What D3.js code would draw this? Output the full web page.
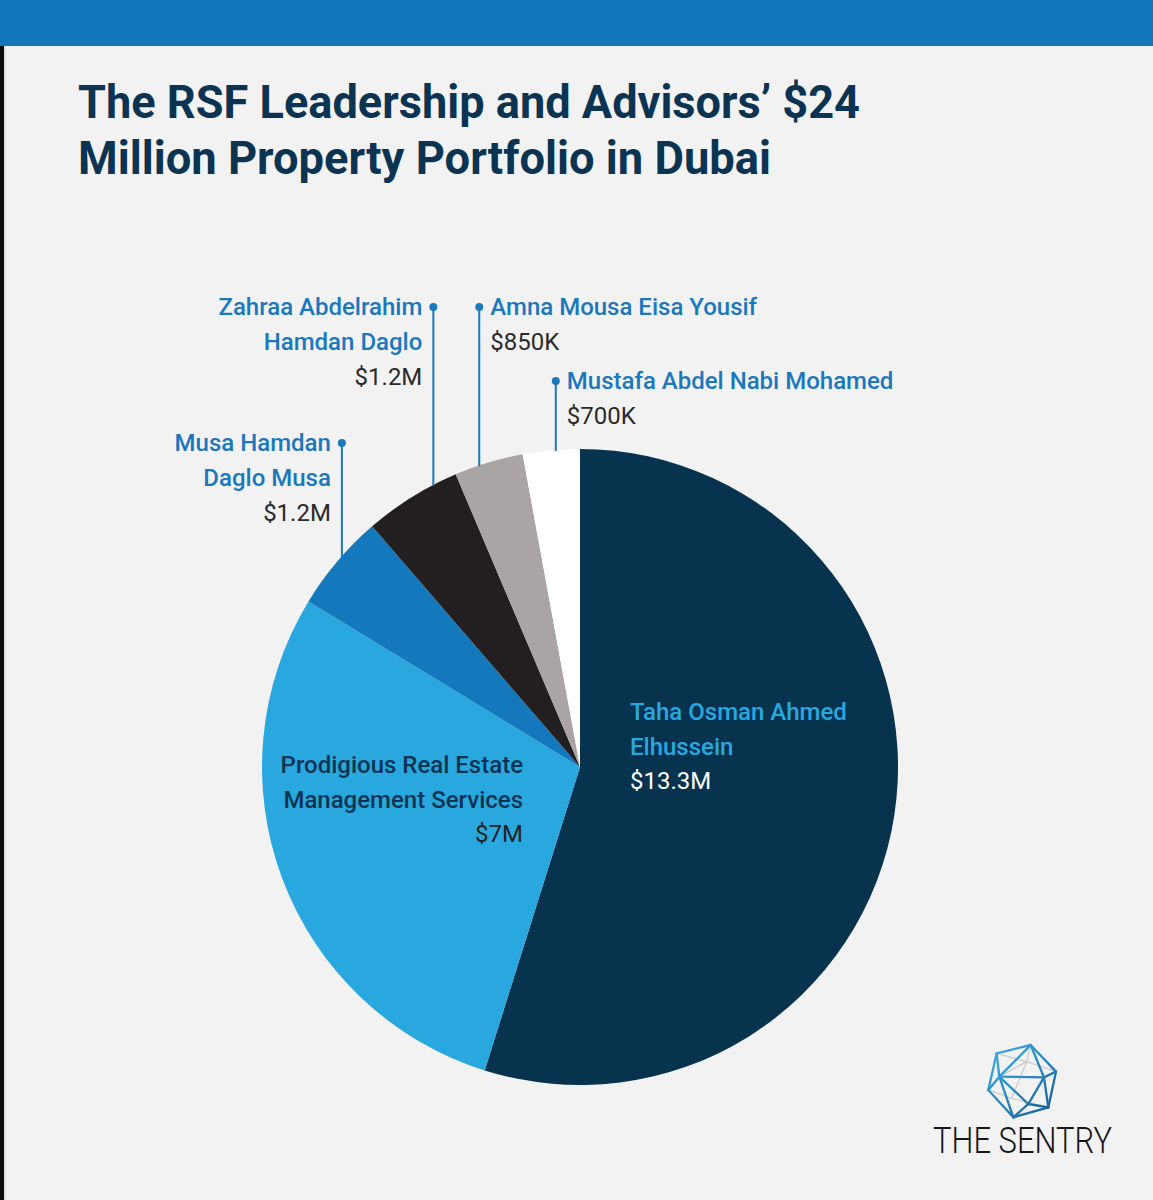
<!DOCTYPE html>
<html>
<head>
<meta charset="utf-8">
<script src="https://cdn.jsdelivr.net/npm/d3@7"></script>
<style>
  html, body { margin: 0; padding: 0; background: #f3f2f3; }
  svg { display: block; }
</style>
</head>
<body>
<script>
// ---- data ----
const names = [
  "Taha Osman Ahmed Elhussein",
  "Prodigious Real Estate Management Services",
  "Musa Hamdan Daglo Musa",
  "Zahraa Abdelrahim Hamdan Daglo",
  "Amna Mousa Eisa Yousif",
  "Mustafa Abdel Nabi Mohamed"
];
const nameLines = [
  ["Taha Osman Ahmed", "Elhussein"],
  ["Prodigious Real Estate", "Management Services"],
  ["Musa Hamdan", "Daglo Musa"],
  ["Zahraa Abdelrahim", "Hamdan Daglo"],
  ["Amna Mousa Eisa Yousif"],
  ["Mustafa Abdel Nabi Mohamed"]
];
const valuesM = [13.3, 7, 1.2, 1.2, 0.85, 0.7];
const valueLabels = ["$13.3M", "$7M", "$1.2M", "$1.2M", "$850K", "$700K"];
const sliceColors = ["#07334f", "#29a8e0", "#1478bc", "#231f20", "#aba4a4", "#ffffff"];
const titleLines = ["The RSF Leadership and Advisors\u2019 $24", "Million Property Portfolio in Dubai"];

// ---- layout ----
const W = 1153, H = 1200;
const cx = 580, cy = 767, R = 318;
const FONT = "Roboto, 'Noto Sans', sans-serif";

const svg = d3.select("body").append("svg").attr("width", W).attr("height", H);
svg.append("rect").attr("width", W).attr("height", H).attr("fill", "#f3f2f3");
svg.append("rect").attr("x", 0).attr("y", 0).attr("width", W).attr("height", 46).attr("fill", "#1377bb");
svg.append("rect").attr("x", 0).attr("y", 46).attr("width", 4).attr("height", H - 46).attr("fill", "#0d0d0d");
svg.append("rect").attr("x", 4).attr("y", 46).attr("width", 1.5).attr("height", H - 46).attr("fill", "#dcdcdc");

// title
const titleWidths = [782, 693];
titleLines.forEach((t, i) => {
  svg.append("text")
    .attr("x", 78).attr("y", 118 + i * 56)
    .attr("font-family", FONT).attr("font-weight", 700).attr("font-size", 47)
    .attr("fill", "#0b3453")
    .attr("textLength", titleWidths[i]).attr("lengthAdjust", "spacingAndGlyphs")
    .text(t);
});

// pie
const data = valuesM.map((v, i) => ({ name: names[i], value: v, i }));
const pie = d3.pie().sort(null).value(d => d.value).startAngle(0).endAngle(2 * Math.PI);
const arcs = pie(data);
const arc = d3.arc().innerRadius(0).outerRadius(R);
const g = svg.append("g").attr("transform", `translate(${cx},${cy})`);
g.selectAll("path").data(arcs).join("path")
  .attr("d", arc)
  .attr("fill", d => sliceColors[d.data.i]);

// inside labels (Taha, Prodigious)
const inside = [
  { i: 0, dx: 50, dy: -47, anchor: "start", nameColor: "#29a8e0", valColor: "#ffffff" },
  { i: 1, dx: -57, dy: 6, anchor: "end", nameColor: "#0b3453", valColor: "#222222" }
];
inside.forEach(l => {
  const lines = nameLines[l.i];
  const t = g.append("g").attr("transform", `translate(${l.dx},${l.dy})`);
  lines.forEach((s, k) => {
    t.append("text").attr("y", k * 34.5).attr("text-anchor", l.anchor)
      .attr("font-family", FONT).attr("font-weight", 500).attr("font-size", 24)
      .attr("fill", l.nameColor).text(s);
  });
  t.append("text").attr("y", lines.length * 34.5).attr("text-anchor", l.anchor)
    .attr("font-family", FONT).attr("font-weight", 400).attr("font-size", 24)
    .attr("fill", l.valColor).text(valueLabels[l.i]);
});

// outside callouts: frac = position inside the slice where the leader meets the rim; dotY = leader top
const callouts = [
  { i: 2, frac: 0.57, dotY: 443, side: "left" },
  { i: 3, frac: 0.75, dotY: 307, side: "left" },
  { i: 4, frac: 0.36, dotY: 307, side: "right" },
  { i: 5, frac: 0.58, dotY: 381, side: "right" }
];
const lineColor = "#1a78bd";
callouts.forEach(c => {
  const a = arcs[c.i];
  const ang = a.startAngle + (a.endAngle - a.startAngle) * c.frac;
  const rimX = cx + R * Math.sin(ang);
  const rimY = cy - R * Math.cos(ang);
  svg.append("line").attr("x1", rimX).attr("x2", rimX).attr("y1", c.dotY).attr("y2", rimY + 1)
    .attr("stroke", lineColor).attr("stroke-width", 2);
  svg.append("circle").attr("cx", rimX).attr("cy", c.dotY).attr("r", 4).attr("fill", lineColor);
  const left = c.side === "left";
  const tx = left ? rimX - 11 : rimX + 11;
  const anchor = left ? "end" : "start";
  const lines = nameLines[c.i];
  lines.forEach((s, k) => {
    svg.append("text").attr("x", tx).attr("y", c.dotY + 8 + k * 35).attr("text-anchor", anchor)
      .attr("font-family", FONT).attr("font-weight", 500).attr("font-size", 24)
      .attr("fill", "#1a78bd").text(s);
  });
  svg.append("text").attr("x", tx).attr("y", c.dotY + 8 + lines.length * 35).attr("text-anchor", anchor)
    .attr("font-family", FONT).attr("font-weight", 400).attr("font-size", 24)
    .attr("fill", "#2a2a2a").text(valueLabels[c.i]);
});

// logo
const logo = svg.append("g").attr("transform", "translate(900,1020) scale(0.3333)");
const P = {
  tl: [290, 100], t: [392, 75], r: [468, 155], br: [445, 262], b: [340, 292], l: [265, 210],
  A: [298, 170], B: [432, 172], C: [385, 252], back: [380, 125], backL: [335, 235]
};
const back = [["tl", "back"], ["back", "r"], ["back", "t"], ["back", "backL"], ["backL", "l"], ["backL", "br"], ["A", "back"]];
back.forEach(([p, q]) => logo.append("line")
  .attr("x1", P[p][0]).attr("y1", P[p][1]).attr("x2", P[q][0]).attr("y2", P[q][1])
  .attr("stroke", "#c9cdd2").attr("stroke-width", 4));
const front = [["tl", "t"], ["t", "r"], ["r", "br"], ["br", "b"], ["b", "l"], ["l", "tl"],
  ["A", "B"], ["B", "C"], ["C", "A"], ["t", "A"], ["t", "B"], ["tl", "A"], ["r", "B"], ["l", "A"],
  ["A", "b"], ["C", "b"], ["C", "br"], ["B", "br"]];
const grad = svg.append("defs").append("linearGradient").attr("id", "lg")
  .attr("gradientUnits", "userSpaceOnUse").attr("x1", 265).attr("y1", 80).attr("x2", 468).attr("y2", 292);
grad.append("stop").attr("offset", 0).attr("stop-color", "#3fb3e8");
grad.append("stop").attr("offset", 1).attr("stop-color", "#145a96");
front.forEach(([p, q]) => logo.append("line")
  .attr("x1", P[p][0]).attr("y1", P[p][1]).attr("x2", P[q][0]).attr("y2", P[q][1])
  .attr("stroke", "url(#lg)").attr("stroke-width", 7).attr("stroke-linecap", "round"));
svg.append("text").attr("x", 933).attr("y", 1153)
  .attr("font-family", FONT).attr("font-weight", 300).attr("font-size", 36)
  .attr("fill", "#151515").attr("textLength", 179).attr("lengthAdjust", "spacingAndGlyphs")
  .text("THE SENTRY");
</script>
</body>
</html>
